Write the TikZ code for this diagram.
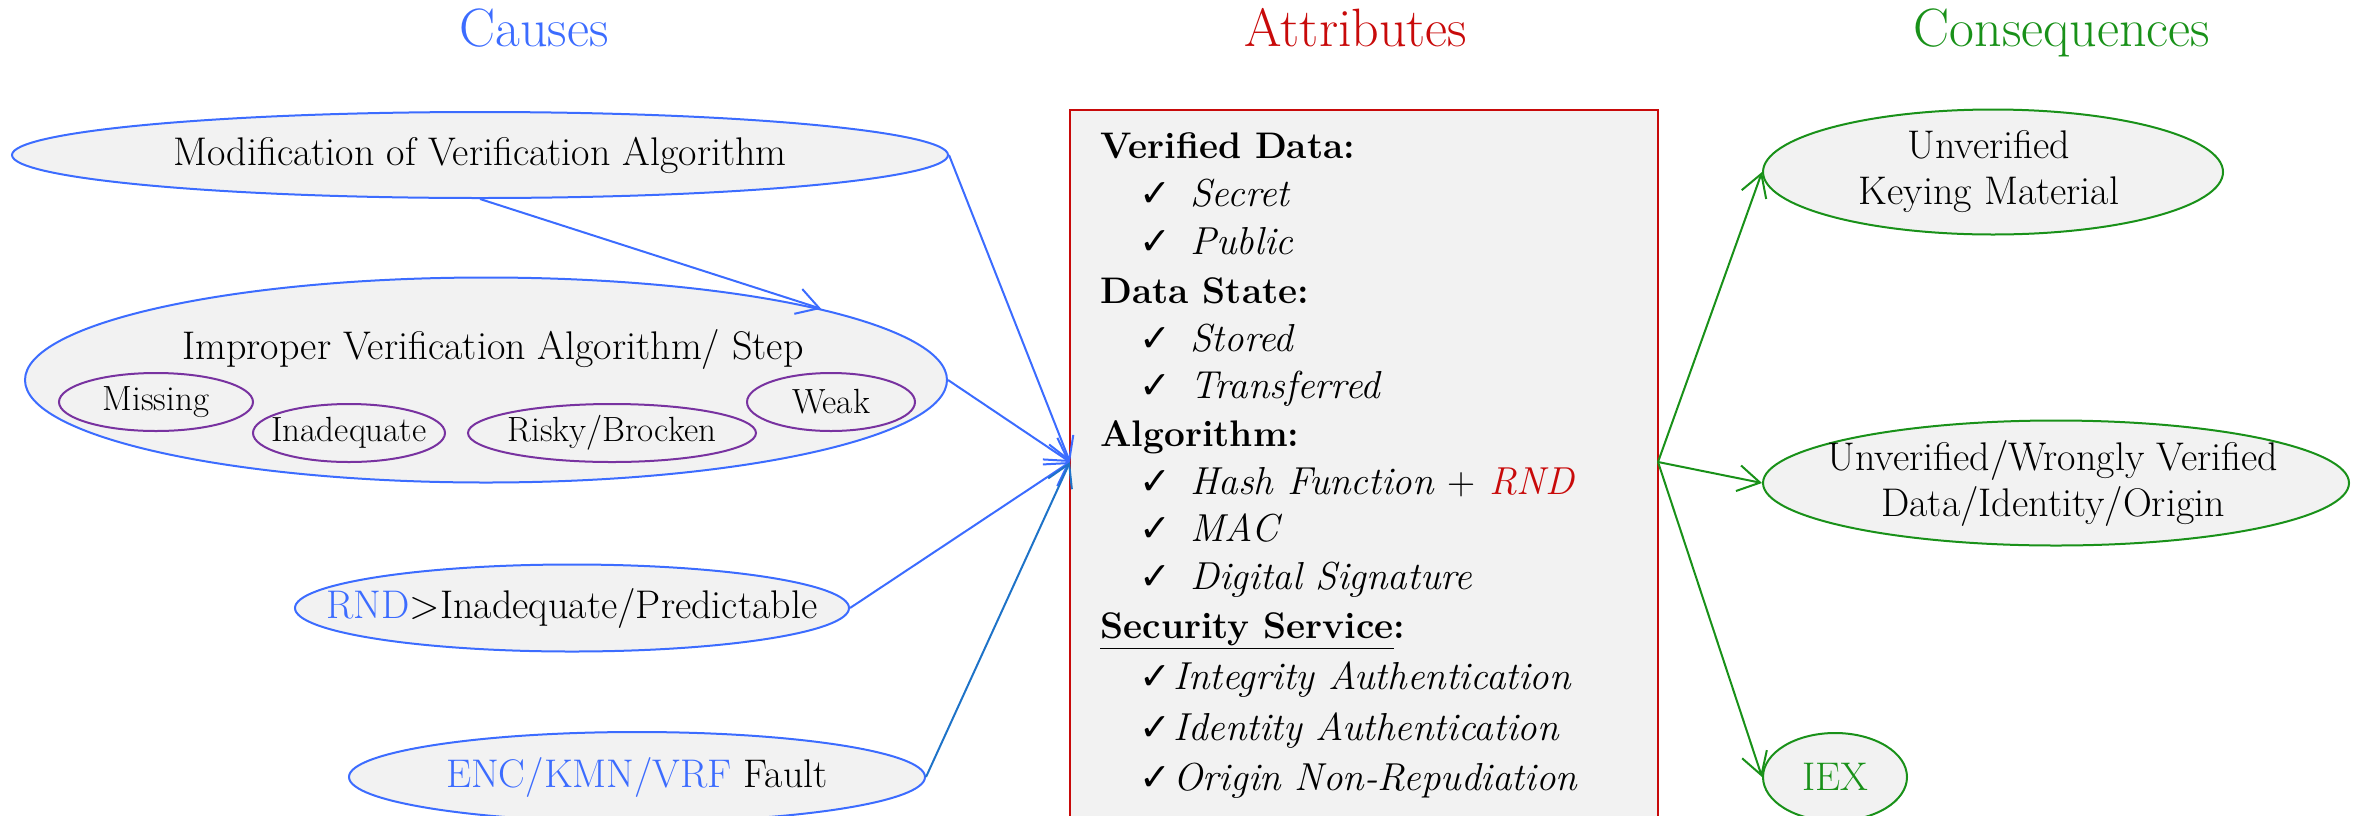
\documentclass[tikz,border=0pt]{standalone}
\usepackage{fontspec}
\newfontfamily\dejavu{DejaVu Sans}
\usetikzlibrary{shapes.geometric,arrows.meta}
\definecolor{cblue}{RGB}{60,108,255}
\definecolor{cblueb}{RGB}{30,115,200}
\definecolor{cred}{RGB}{200,10,10}
\definecolor{cgreen}{RGB}{25,145,25}
\definecolor{cpurple}{RGB}{120,50,160}
\definecolor{cfill}{RGB}{242,242,242}
\tikzset{
  causeell/.style={ellipse, draw=cblue, fill=cfill, line width=1pt, inner sep=0pt},
  subell/.style={ellipse, draw=cpurple, fill=cfill, line width=1pt, inner sep=0pt, minimum height=29pt},
  consell/.style={ellipse, draw=cgreen, fill=cfill, line width=1pt, inner sep=0pt},
  etext/.style={inner sep=0pt, align=center, font=\fontsize{20}{23}\selectfont},
  stext/.style={inner sep=0pt, font=\fontsize{17.5}{20}\selectfont},
  titletext/.style={anchor=base, inner sep=0pt, font=\fontsize{27}{30}\selectfont},
  bluearrow/.style={draw=cblue, line width=1pt, -{Straight Barb[length=11pt,width=13pt]}},
  greenarrow/.style={draw=cgreen, line width=1pt, -{Straight Barb[length=11pt,width=13pt]}},
  headtext/.style={anchor=base west, inner sep=0pt, font=\fontsize{18.5}{24}\selectfont\bfseries},
  itemtext/.style={anchor=base west, inner sep=0pt, font=\fontsize{19.5}{24}\selectfont\itshape},
  chk/.style={anchor=base west, inner sep=0pt, font=\fontsize{19}{20}\selectfont\dejavu},
}
\begin{document}
\begin{tikzpicture}[x=0.5pt,y=-0.5pt]
\useasboundingbox (0,0) rectangle (2354,815);

% titles
\node[titletext, text=cblue] (tcause) at (534,46) {Causes};
\node[titletext, text=cred] (tattr) at (1356,46) {Attributes};
\node[titletext, text=cgreen] (tcons) at (2062,46) {Consequences};

% attribute box
\node[rectangle, draw=cred, fill=cfill, line width=1pt, inner sep=0pt,
      minimum width=294pt, minimum height=365.5pt, anchor=north west] (box) at (1069,109) {};

\node[headtext] (h1) at (1100,158) {Verified Data:};
\node[chk] (k1) at (1139,206) {✓};
\node[itemtext] (i1) at (1190,206) {Secret};
\node[chk] (k2) at (1139,254) {✓};
\node[itemtext] (i2) at (1190,254) {Public};
\node[headtext] (h2) at (1100,303) {Data State:};
\node[chk] (k3) at (1139,351) {✓};
\node[itemtext] (i3) at (1190,351) {Stored};
\node[chk] (k4) at (1139,398) {✓};
\node[itemtext] (i4) at (1190,398) {Transferred};
\node[headtext] (h3) at (1100,446) {Algorithm:};
\node[chk] (k5) at (1139,494) {✓};
\node[itemtext] (i5) at (1190,494) {Hash Function {\upshape +} \textcolor{cred}{RND}};
\node[chk] (k6) at (1139,541) {✓};
\node[itemtext] (i6) at (1190,541) {MAC};
\node[chk] (k7) at (1139,589) {✓};
\node[itemtext] (i7) at (1190,589) {Digital Signature};
\node[headtext] (h4) at (1100,638) {\underline{Security Service}:};
\node[chk] (k8) at (1139,689) {✓};
\node[itemtext] (i8) at (1173,689) {Integrity Authentication};
\node[chk] (k9) at (1139,740) {✓};
\node[itemtext] (i9) at (1173,740) {Identity Authentication};
\node[chk] (k10) at (1139,790) {✓};
\node[itemtext] (i10) at (1173,790) {Origin Non-Repudiation};

% causes
\node[causeell, minimum width=468pt, minimum height=43pt] (mod) at (480,155) {};
\node[etext] (modt) at (mod.center) {Modification of Verification Algorithm};

\node[causeell, minimum width=461pt, minimum height=102.5pt] (imp) at (486,380) {};
\node[etext, anchor=base] (impt) at (493,359) {Improper Verification Algorithm/ Step};
\node[subell, minimum width=97pt] (miss) at (156,402) {};
\node[stext] (misst) at (miss.center) {Missing};
\node[subell, minimum width=96pt] (inad) at (349,433) {};
\node[stext] (inadt) at (inad.center) {Inadequate};
\node[subell, minimum width=144pt] (risky) at (612,433) {};
\node[stext] (riskyt) at (risky.center) {Risky/Brocken};
\node[subell, minimum width=84pt] (weak) at (831,402) {};
\node[stext] (weakt) at (weak.center) {Weak};

\node[causeell, minimum width=277pt, minimum height=43.5pt] (rnd) at (572,608) {};
\node[etext] (rndt) at (rnd.center) {\textcolor{cblue}{RND}>Inadequate/Predictable};

\node[causeell, minimum width=288pt, minimum height=45pt] (enc) at (637,777) {};
\node[etext] (enct) at (enc.center) {\textcolor{cblue}{ENC/KMN/VRF} Fault};

% consequences
\node[consell, minimum width=230pt, minimum height=62.5pt] (c1) at (1993,172) {};
\node[etext] (c1t) at (1989,172) {Unverified\\Keying Material};
\node[consell, minimum width=293pt, minimum height=62.5pt] (c2) at (2056,483) {};
\node[etext] (c2t) at (2053,483) {Unverified/Wrongly Verified\\Data/Identity/Origin};
\node[consell, minimum width=72pt, minimum height=44pt] (c3) at (1835,777) {};
\node[etext, text=cgreen] (c3t) at (c3.center) {IEX};

% connectors
\coordinate (conv) at (1070,462);
\coordinate (src) at (1658,462);
\draw[bluearrow] (mod.south) -- (imp.12.5);
\draw[bluearrow] (mod.east) -- (conv);
\draw[bluearrow] (imp.east) -- (conv);
\draw[bluearrow] (rnd.east) -- (conv);
\draw[bluearrow, draw=cblueb] (enc.east) -- (conv);
\draw[greenarrow] (src) -- (c1.west);
\draw[greenarrow] (src) -- (c2.west);
\draw[greenarrow] (src) -- (c3.west);
\end{tikzpicture}
\end{document}
